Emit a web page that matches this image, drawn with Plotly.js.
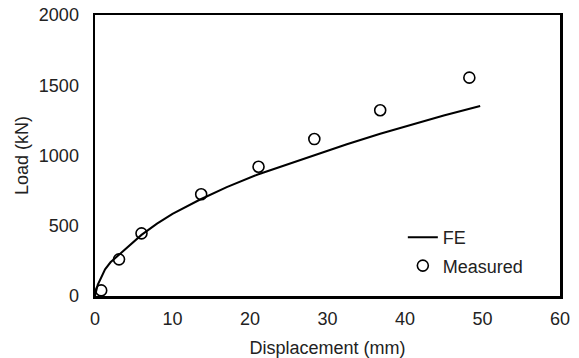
<!DOCTYPE html>
<html>
<head>
<meta charset="utf-8">
<script src="https://cdn.plot.ly/plotly-3.0.1.min.js"></script>
<style>html,body{margin:0;padding:0;background:#fff;}#chart{width:579px;height:358px;}</style>
</head>
<body>
<div id="chart"></div>
<script>
// FE curve
var feDisp = [0, 0.15, 0.35, 0.65, 1.0, 1.3, 2.0, 3.0, 4.0, 5.0, 6.0, 8.0, 10.0, 13.5, 17.0, 21.0, 25.0, 28.3, 32.5, 36.8, 40.0, 45.0, 49.7];
var feLoad = [0, 40, 80, 114, 160, 190, 240, 290, 340, 390, 435, 515, 585, 685, 775, 865, 940, 1003, 1080, 1155, 1205, 1285, 1352];
// Measured points
var measDisp = [0.8, 3.1, 6.0, 13.7, 21.1, 28.3, 36.8, 48.3];
var measLoad = [40, 261, 446, 724, 920, 1117, 1322, 1554];
var xTicks = [0, 10, 20, 30, 40, 50, 60];
var yTicks = [0, 500, 1000, 1500, 2000];

var traces = [
  {x: feDisp, y: feLoad, mode: 'lines', name: 'FE', legendgroup: 'a',
   line: {color: '#000', width: 2}},
  {x: measDisp, y: measLoad, mode: 'markers', name: 'Measured', legendgroup: 'b',
   marker: {symbol: 'circle-open', size: 11, color: '#000', line: {width: 1.6, color: '#000'}}}
];
var layout = {
  width: 579, height: 358,
  margin: {l: 95, r: 19, t: 15, b: 62},
  paper_bgcolor: '#fff', plot_bgcolor: '#fff',
  font: {family: 'Liberation Sans, Arial, sans-serif', size: 18, color: '#222'},
  showlegend: true,
  legend: {x: 0.662, y: 0.274, xanchor: 'left', yanchor: 'top', bgcolor: 'rgba(0,0,0,0)',
           traceorder: 'grouped', tracegroupgap: 2, font: {size: 18, color: '#222'}},
  xaxis: {range: [0, 60], tickvals: xTicks, ticktext: xTicks.map(String), showgrid: false, zeroline: false,
          showline: true, mirror: true, linecolor: '#000', linewidth: 2.5, ticks: '',
          ticklabelstandoff: 5,
          title: {text: 'Displacement (mm)', font: {size: 18, color: '#222'}, standoff: 14}},
  yaxis: {range: [0, 2000], tickvals: yTicks, ticktext: yTicks.map(String), showgrid: false, zeroline: false,
          showline: true, mirror: true, linecolor: '#000', linewidth: 2.5, ticks: '',
          ticklabelstandoff: 10,
          title: {text: 'Load (kN)', font: {size: 18, color: '#222'}, standoff: 6}}
};
Plotly.newPlot('chart', traces, layout, {displayModeBar: false, staticPlot: true});
</script>
</body>
</html>
